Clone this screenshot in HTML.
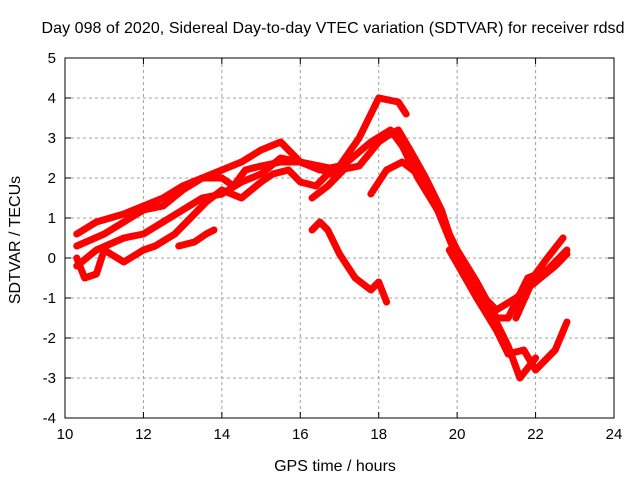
<!DOCTYPE html>
<html><head><meta charset="utf-8"><style>
body{margin:0;background:#fff;}
svg text{font-family:"Liberation Sans",sans-serif;font-size:15px;fill:#000;}
svg text.big{font-size:16px;}
</style></head><body>
<svg width="640" height="480">
<g id="axes"></g><g id="series"></g>
</svg>
<script>
const xTicks=[10,12,14,16,18,20,22,24];
const yTicks=[-4,-3,-2,-1,0,1,2,3,4,5];
const track1=[[10.3,0.6],[10.8,0.9],[11.5,1.1],[12,1.3],[12.5,1.5],[13,1.8],[13.5,2.0],[14,2.2],[14.5,2.4],[15,2.7],[15.5,2.9],[15.7,2.7],[16,2.4],[16.5,2.2],[17,2.3],[17.5,3.0],[18,4.0],[18.5,3.9],[18.7,3.6]];
const track2=[[10.3,0.3],[11,0.6],[11.5,0.9],[12,1.2],[12.5,1.3],[13,1.7],[13.5,2.0],[14,2.0],[14.3,1.8],[14.6,2.2],[15,2.3],[15.5,2.4],[16,2.4],[16.5,2.3],[17,2.2],[17.5,2.3],[18,2.9],[18.3,3.1],[18.5,3.2],[18.8,2.7],[19.2,2.0],[19.6,1.2],[20,0],[20.5,-0.8],[21,-1.3],[21.5,-1.0],[22,-0.6],[22.5,-0.2],[22.8,0.1]];
const track3=[[10.3,-0.2],[10.8,0.2],[11.5,0.5],[12,0.6],[12.5,0.9],[13,1.2],[13.5,1.5],[14,1.6],[14.5,1.9],[15,2.1],[15.5,2.5],[16,2.4],[16.3,2.3],[16.8,2.1],[17.2,2.4],[17.8,2.9],[18.3,3.2],[18.6,2.8],[19,2.0],[19.5,1.2],[20,0.2],[20.5,-0.6],[21,-1.5],[21.3,-1.5],[21.8,-0.5],[22.3,-0.3],[22.8,0.2]];
const track4=[[10.3,0.0],[10.5,-0.5],[10.8,-0.4],[11,0.2],[11.5,-0.1],[12,0.2],[12.3,0.3],[12.8,0.6],[13.2,1.0],[13.6,1.4],[14,1.7],[14.5,1.5],[15,1.9],[15.3,2.1],[15.7,2.2],[16,1.9],[16.4,1.8],[16.8,2.2]];
const track5=[[12.9,0.3],[13.3,0.4],[13.6,0.6],[13.8,0.7]];
const track6=[[16.3,0.7],[16.5,0.9],[16.7,0.7],[17,0.1],[17.4,-0.5],[17.8,-0.8],[18,-0.6],[18.2,-1.1]];
const track7=[[16.3,1.5],[16.7,1.8],[17.1,2.2]];
const track8=[[17.8,1.6],[18.2,2.2],[18.6,2.4],[19,2.1],[19.5,1.2],[20,0],[20.5,-1.0],[21,-1.8],[21.3,-2.4],[21.7,-2.3],[22,-2.8],[22.5,-2.3],[22.8,-1.6]];
const track9=[[19.8,0.2],[20.5,-1.0],[21,-1.6],[21.3,-2.2],[21.6,-3.0],[22,-2.5]];
const track10=[[21.5,-1.5],[22,-0.4],[22.3,0],[22.7,0.5]];
const tracks=[track1,track2,track3,track4,track5,track6,track7,track8,track9,track10];
const L=65,R=614,T=58,B=418;
const xs=v=>L+(v-10)/14*(R-L), ys=v=>B-(v+4)/9*(B-T);
const NS='http://www.w3.org/2000/svg';
const ax=document.getElementById('axes'), se=document.getElementById('series');
function mk(t,a,p){const e=document.createElementNS(NS,t);for(const k in a)e.setAttribute(k,a[k]);p.appendChild(e);return e;}
xTicks.forEach(v=>{const x=xs(v);
 if(v>10&&v<24){const g=mk('line',{x1:x,x2:x,y1:T,y2:B,stroke:'#a0a0a0','stroke-dasharray':'3,3'},ax);}
 mk('line',{x1:x,x2:x,y1:B,y2:B-6,stroke:'#000'},ax);mk('line',{x1:x,x2:x,y1:T,y2:T+6,stroke:'#000'},ax);
 const t=mk('text',{x:x,y:B+21,'text-anchor':'middle'},ax);t.textContent=v;});
yTicks.forEach(v=>{const y=ys(v);
 if(v>-4&&v<5){const g=mk('line',{x1:L,x2:R,y1:y,y2:y,stroke:'#a0a0a0','stroke-dasharray':'3,3'},ax);}
 mk('line',{x1:L,x2:L+6,y1:y,y2:y,stroke:'#000'},ax);mk('line',{x1:R,x2:R-6,y1:y,y2:y,stroke:'#000'},ax);
 const t=mk('text',{x:L-9,y:y+5,'text-anchor':'end'},ax);t.textContent=v;});
const fr=mk('rect',{x:L,y:T,width:R-L,height:B-T,fill:'none',stroke:'#000'},ax);
let t=mk('text',{x:333,y:33,'text-anchor':'middle',class:'big',textLength:583},ax);t.textContent='Day 098 of 2020, Sidereal Day-to-day VTEC variation (SDTVAR) for receiver rdsd';
t=mk('text',{x:335,y:471,'text-anchor':'middle',class:'big'},ax);t.textContent='GPS time / hours';
t=mk('text',{x:20,y:240,'text-anchor':'middle',class:'big',transform:'rotate(-90 20 240)'},ax);t.textContent='SDTVAR / TECUs';
tracks.forEach(tr=>{
 const p=mk('polyline',{points:tr.map(d=>xs(d[0])+','+ys(d[1])).join(' '),fill:'none',stroke:'#ff0000','stroke-width':7,'stroke-linejoin':'round','stroke-linecap':'round'},se);
 
 
});
</script>
</body></html>
